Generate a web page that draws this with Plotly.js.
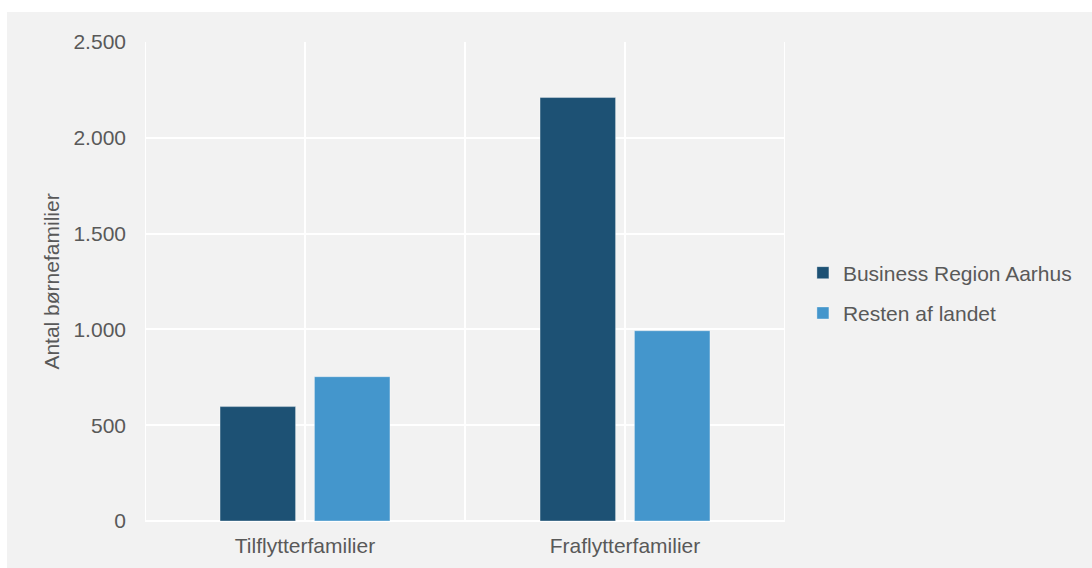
<!DOCTYPE html>
<html>
<head>
<meta charset="utf-8">
<script src="https://cdn.plot.ly/plotly-3.0.1.min.js"></script>
<style>
  html, body { margin: 0; padding: 0; background: #ffffff; }
  #chart { position: absolute; left: 7px; top: 12px; width: 1085px; height: 556px; }
</style>
</head>
<body>
<div id="chart"></div>
<script>
const categories = ["Tilflytterfamilier", "Fraflytterfamilier"];
const seriesNames = ["Business Region Aarhus", "Resten af landet"];
const businessRegionAarhus = [597, 2210];
const restenAfLandet = [753, 993];
const yTickValues = [0, 500, 1000, 1500, 2000, 2500];
const yAxisTitle = "Antal børnefamilier";

const textColor = "#595959";
const fontFamily = "'Liberation Sans', Arial, sans-serif";
const fontSize = 21;

const traces = [
  {
    type: "bar",
    name: seriesNames[0],
    x: categories,
    y: businessRegionAarhus,
    legendgroup: "a",
    marker: { color: "#1d5174", line: { color: "rgba(255,255,255,0.35)", width: 1 } },
    hoverinfo: "x+y+name"
  },
  {
    type: "bar",
    name: seriesNames[1],
    x: categories,
    y: restenAfLandet,
    legendgroup: "b",
    marker: { color: "#4496cc", line: { color: "rgba(255,255,255,0.35)", width: 1 } },
    hoverinfo: "x+y+name"
  }
];

const boundaryShapes = [-0.5, 0.5, 1.5].map(v => ({
  type: "line", xref: "x", yref: "paper", x0: v, x1: v, y0: 0, y1: 1,
  line: { color: "#ffffff", width: 2 }, layer: "below"
}));

const layout = {
  width: 1085,
  height: 556,
  paper_bgcolor: "#f2f2f2",
  plot_bgcolor: "#f2f2f2",
  separators: ",.",
  font: { family: fontFamily, size: fontSize, color: textColor },
  margin: { l: 138, r: 307, t: 30, b: 47, pad: 0 },
  barmode: "group",
  bargap: 0.41,
  bargroupgap: 0.2,
  showlegend: true,
  legend: {
    x: 1.028, xanchor: "left",
    y: 0.476, yanchor: "middle",
    bgcolor: "rgba(0,0,0,0)",
    tracegroupgap: 10,
    font: { family: fontFamily, size: fontSize, color: textColor }
  },
  xaxis: {
    type: "category",
    range: [-0.5, 1.5],
    showgrid: true,
    gridcolor: "#ffffff",
    gridwidth: 2,
    showline: false,
    zeroline: false,
    ticks: "",
    ticklabelstandoff: 10,
    tickfont: { family: fontFamily, size: fontSize, color: textColor },
    fixedrange: true
  },
  yaxis: {
    range: [0, 2500],
    tickvals: yTickValues,
    tickformat: ",d",
    showgrid: true,
    gridcolor: "#ffffff",
    gridwidth: 2,
    zeroline: true,
    zerolinecolor: "#ffffff",
    zerolinewidth: 2,
    showline: false,
    ticks: "",
    ticklabelstandoff: 18,
    tickfont: { family: fontFamily, size: fontSize, color: textColor },
    title: { text: yAxisTitle, standoff: 8, font: { family: fontFamily, size: fontSize, color: textColor } },
    fixedrange: true
  },
  shapes: boundaryShapes
};

Plotly.newPlot("chart", traces, layout, { displayModeBar: false, staticPlot: true });
</script>
</body>
</html>
